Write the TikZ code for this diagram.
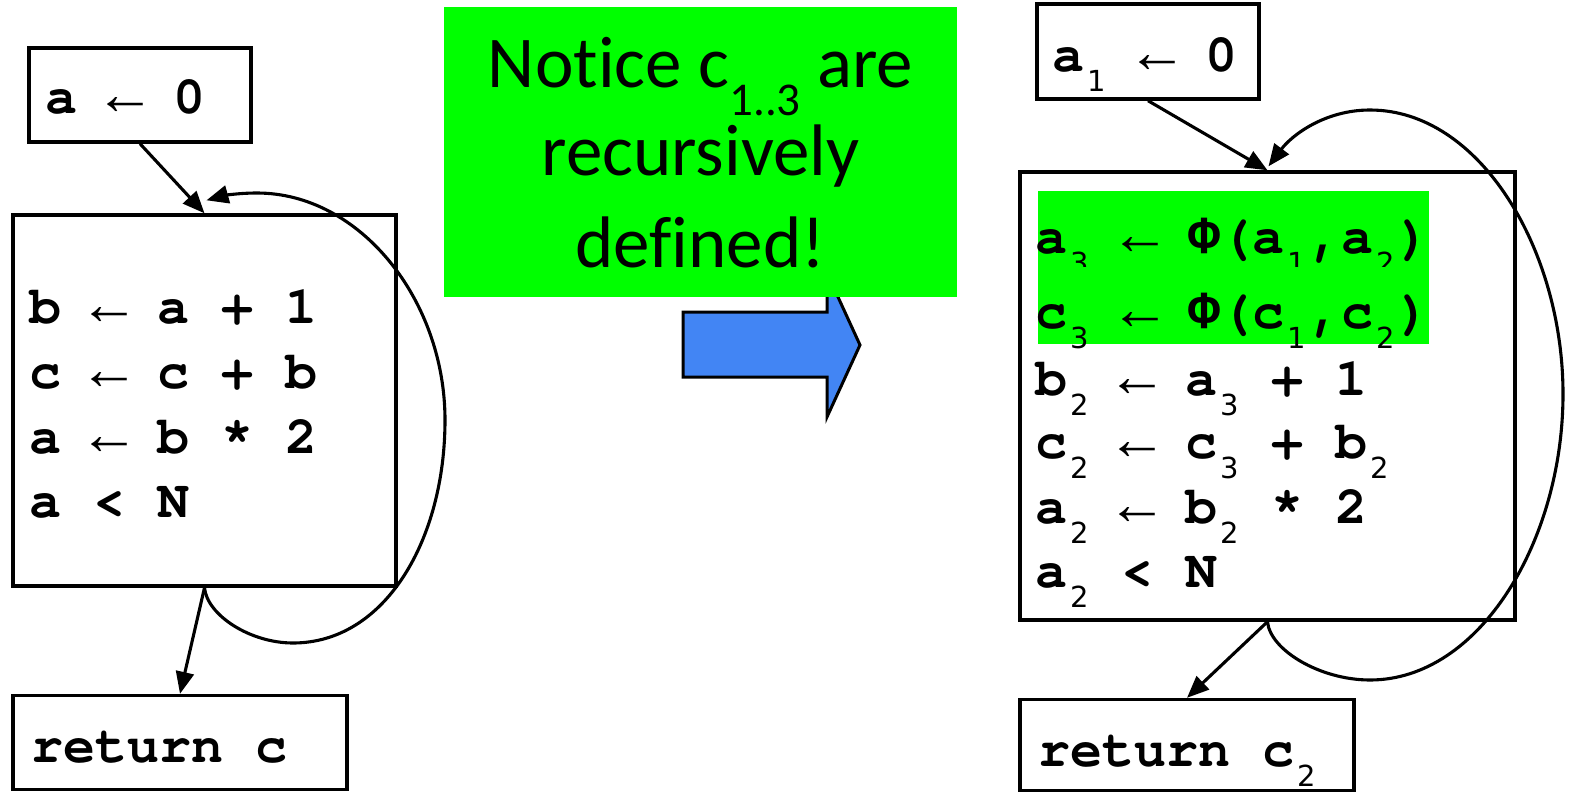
\documentclass[tikz,border=0pt]{standalone}
\usepackage{fontspec}
\usetikzlibrary{arrows.meta,calc}
\newfontfamily\codef{texgyrecursor}[Extension=.otf, UprightFont=*-regular, BoldFont=*-bold]
\newfontfamily\phif{Liberation Mono}
\newfontfamily\arrf{Liberation Serif}
\newfontfamily\subf{DejaVu Sans}
\newfontfamily\notef{Carlito}[Ligatures=NoCommon]
\definecolor{hl}{RGB}{0,255,0}
\definecolor{ablue}{RGB}{66,133,244}
\newcommand\LA{\makebox[32pt]{\raisebox{-1pt}{\arrf\mdseries\fontsize{60pt}{60pt}\selectfont ←}}}
\newcommand\PHI{{\phif\bfseries Φ}}
\newcommand\sbw[2]{\makebox[#1][l]{\hspace{3pt}\raisebox{-20pt}{\subf\mdseries\fontsize{29pt}{29pt}\selectfont #2}}}
\newcommand\sbx[1]{\sbw{22pt}{#1}}
\newcommand\sby[1]{\sbw{25pt}{#1}}
\tikzset{
  box/.style={draw, rectangle, line width=3.4pt, inner sep=0pt},
  code/.style={anchor=base west, inner sep=0pt, font={\codef\bfseries\fontsize{53.3pt}{64pt}\selectfont}},
  conn/.style={line width=3.1pt, -{Triangle[length=22pt,width=18pt]}},
  note/.style={anchor=base, inner sep=0pt, font={\notef\fontsize{73pt}{87pt}\selectfont}},
  hlbox/.style={fill=hl, draw=none}
}
\begin{document}
\begin{tikzpicture}[x=1pt,y=-1pt]
\useasboundingbox (0,0) rectangle (1571,795);
% ---------- left CFG ----------
\node[box, minimum width=222pt, minimum height=94pt] (A) at (140,95) {};
\node[box, minimum width=383pt, minimum height=371pt] (B) at (204.5,400.5) {};
\node[box, minimum width=334pt, minimum height=94pt] (C) at (180,742.5) {};
\node[code] (ta) at (45.5,113) {a \LA\ 0};
\node[code] (tb1) at (29,323) {b \LA\ a + 1};
\node[code] (tb2) at (29,388) {c \LA\ c + b};
\node[code] (tb3) at (29,453) {a \LA\ b * 2};
\node[code] (tb4) at (29,517) {a < N};
\node[code] (tc) at (31,762) {return c};
\draw[conn] (A.south) -- (B.north);
\draw[conn] (B.south) -- (C.north);
\coordinate (Bin) at ($(B.north)+(2,-13)$);
\draw[conn] (B.south) .. controls (207,615) and (250,643) .. (293,643)
  .. controls (385,643) and (445,540) .. (445,420)
  .. controls (445,300) and (360,193) .. (257,193)
  .. controls (237,193) and (222,196) .. (Bin);
% ---------- middle ----------
\draw[line width=3pt, fill=ablue] (683,312) -- (827,312) -- (827,273) -- (860,345)
  -- (827,417) -- (827,377) -- (683,377) -- cycle;
\node[hlbox, minimum width=513pt, minimum height=290pt, inner sep=0pt] (N) at (700.5,152) {};
\node[note] (n1) at (700.5,87) {Notice c\raisebox{-28pt}{\fontsize{47pt}{47pt}\selectfont 1..3} are};
\node[note] (n2) at (700.5,175) {recursively};
\node[note] (n3) at (700.5,267) {defined!};
% ---------- right CFG (SSA) ----------
\node[box, minimum width=222pt, minimum height=95pt] (Ar) at (1148,51.5) {};
\node[box, minimum width=495pt, minimum height=448pt] (Br) at (1267.5,396) {};
\node[box, minimum width=334pt, minimum height=91pt] (Cr) at (1187,745) {};
\node[code] (tar) at (1052.5,71) {a\sby{1} \LA\ 0};
\fill[hl] (1038,191) rectangle (1429,267);
\node[code] (r1) at (1035,253) {a\sby{3} \LA\ \PHI(a\sby{1},a\sby{2})};
\fill[hl] (1038,267) rectangle (1429,344);
\node[code] (r2) at (1035,328) {c\sby{3} \LA\ \PHI(c\sby{1},c\sby{2})};
\node[code] (r3) at (1035,395) {b\sbx{2} \LA\ a\sbx{3} + 1};
\node[code] (r4) at (1035,458) {c\sbx{2} \LA\ c\sbx{3} + b\sbx{2}};
\node[code] (r5) at (1035,523) {a\sbx{2} \LA\ b\sbx{2} * 2};
\node[code] (r6) at (1035,587) {a\sbx{2} < N};
\node[code] (tcr) at (1038.5,766) {return c\sbx{2}};
\draw[conn] (Ar.south) -- (Br.north);
\draw[conn] (Br.south) -- (Cr.north);
\coordinate (Brin) at ($(Br.north)+(1,-4)$);
\draw[conn] (Br.south) .. controls (1270,650) and (1320,680) .. (1370,680)
  .. controls (1480,680) and (1563,540) .. (1563,394)
  .. controls (1563,250) and (1480,110) .. (1370,110)
  .. controls (1325,110) and (1292,135) .. (Brin);
\end{tikzpicture}
\end{document}
